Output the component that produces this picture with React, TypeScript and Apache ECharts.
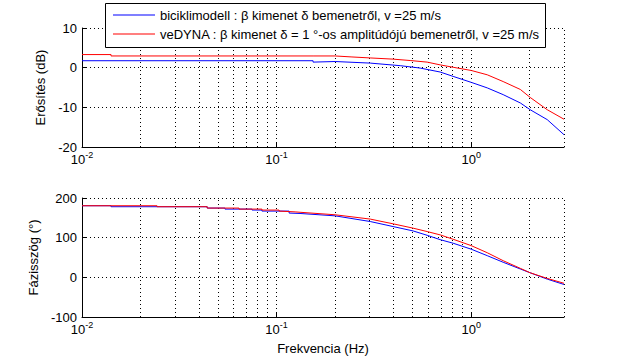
import React, { useEffect, useRef } from "react";
import * as echarts from "echarts";

const seriesNames = [
  "biciklimodell : β kimenet δ bemenetről, v =25 m/s",
  "veDYNA : β kimenet δ = 1 °-os amplitúdójú bemenetről, v =25 m/s",
];

// Magnitude (dB)
const magFreqBlue = [0.01, 0.154, 0.154, 0.2, 0.303, 0.432, 0.547, 0.693, 0.808, 1.0, 1.21, 1.46, 1.79, 2.01, 2.46, 3.0];
const magBlue = [1.75, 1.75, 1.4, 1.55, 1.15, 0.5, -0.1, -1.1, -2.2, -3.7, -5.1, -6.8, -8.9, -10.6, -13.1, -16.9];
const magFreqRed = [0.01, 0.0141, 0.0141, 0.154, 0.154, 0.2, 0.244, 0.303, 0.397, 0.486, 0.594, 0.693, 0.808, 1.0, 1.21, 1.46, 1.79, 2.01, 2.46, 3.0];
const magRed = [3.3, 3.3, 2.95, 2.95, 2.8, 2.95, 2.7, 2.45, 2.15, 1.8, 1.4, 0.7, 0.1, -0.7, -1.8, -3.5, -5.5, -7.5, -10.6, -13.0];

// Phase (deg)
const phFreqBlue = [0.01, 0.0141, 0.0141, 0.044, 0.044, 0.0543, 0.0543, 0.0748, 0.0748, 0.0841, 0.0841, 0.116, 0.116, 0.132, 0.2, 0.303, 0.397, 0.503, 0.594, 0.693, 0.808, 1.0, 1.21, 1.46, 1.79, 2.01, 2.46, 3.0];
const phBlue = [180.5, 180.5, 178, 178, 174.6, 174.6, 172, 172, 169.6, 169.6, 167, 167, 162, 161, 155, 140.7, 128, 117, 106, 95, 86, 71, 54.6, 38, 21, 11.5, -4.5, -18];
const phFreqRed = [0.01, 0.0243, 0.0243, 0.044, 0.044, 0.0641, 0.0641, 0.0841, 0.0841, 0.103, 0.103, 0.1245, 0.132, 0.2, 0.303, 0.397, 0.503, 0.594, 0.693, 0.808, 1.0, 1.21, 1.46, 1.79, 2.01, 2.46, 3.0];
const phRed = [180.5, 180.5, 178, 178, 174.6, 174.6, 172, 172, 169.6, 169.6, 167, 165, 164, 157.7, 146.8, 134.9, 124, 115.4, 107, 96, 80, 62, 42, 22.6, 11.5, -2.7, -15];

// Log grid lines (vertical)
const gridFreqs = [0.02, 0.03, 0.04, 0.05, 0.06, 0.07, 0.08, 0.09, 0.1, 0.2, 0.3, 0.4, 0.5, 0.6, 0.7, 0.8, 0.9, 1, 2, 3];

const FONT = "'Liberation Sans', Arial, sans-serif";
const BLUE = "#0000ff";
const RED = "#ff0000";

const zip = (xs: number[], ys: number[]) => xs.map((x, i) => [x, ys[i]]);

export default function App() {
  const ref = useRef<HTMLDivElement>(null);
  useEffect(() => {
    if (!ref.current) return;
    const chart = echarts.init(ref.current, undefined, { renderer: "svg" });
    const dotted = { color: "#000", type: [1, 3] as any, width: 1 };
    const xAxisBase = (gridIndex: number, withName: boolean) => ({
      type: "log",
      gridIndex,
      min: 0.01,
      max: 3,
      logBase: 10,
      name: withName ? "Frekvencia (Hz)" : "",
      nameLocation: "middle",
      nameGap: 25,
      nameTextStyle: { fontSize: 13, color: "#000", fontFamily: FONT },
      axisLine: { show: true, onZero: false, lineStyle: { color: "#000", width: 1 } },
      axisTick: { show: true, inside: true, length: 5, lineStyle: { color: "#000" } },
      splitLine: { show: false },
      axisLabel: {
        margin: 5,
        color: "#000",
        fontFamily: FONT,
        showMaxLabel: false,
        formatter: (v: number) => {
          const e = Math.round(Math.log10(v));
          if (Math.abs(v - Math.pow(10, e)) > 1e-9 * Math.pow(10, e)) return "";
          return "{b|10}{s|" + e + "}";
        },
        rich: {
          b: { fontSize: 13, fontFamily: FONT, color: "#000", lineHeight: 14 },
          s: { fontSize: 9, fontFamily: FONT, color: "#000", lineHeight: 10, padding: [0, 0, 8, 0] },
        },
      },
    });
    const yAxisBase = (gridIndex: number, name: string, min: number, max: number, interval: number, gap: number) => ({
      type: "value",
      gridIndex,
      min,
      max,
      interval,
      name,
      nameLocation: "middle",
      nameGap: gap,
      nameTextStyle: { fontSize: 13, color: "#000", fontFamily: FONT },
      axisLine: { show: true, onZero: false, lineStyle: { color: "#000", width: 1 } },
      axisTick: { show: true, inside: true, length: 5, lineStyle: { color: "#000" } },
      axisLabel: { margin: 5, fontSize: 13, color: "#000", fontFamily: FONT },
      splitLine: { show: true, lineStyle: dotted },
    });
    const markGrid = {
      silent: true,
      symbol: "none",
      z: 1,
      label: { show: false },
      emphasis: { disabled: true },
      lineStyle: dotted,
      data: gridFreqs.map((v) => ({ xAxis: v })),
    };
    const lineSeries = (name: string, color: string, data: number[][], idx: number, mark: boolean) => ({
      type: "line",
      name,
      xAxisIndex: idx,
      yAxisIndex: idx,
      data,
      symbol: "none",
      showSymbol: false,
      z: 3,
      lineStyle: { color, width: 1 },
      itemStyle: { color },
      emphasis: { disabled: true },
      ...(mark ? { markLine: markGrid } : {}),
    });
    chart.setOption({
      animation: false,
      backgroundColor: "#fff",
      textStyle: { fontFamily: FONT },
      grid: [
        { left: 82, top: 28, width: 482, height: 119 },
        { left: 82, top: 198, width: 482, height: 119 },
      ],
      xAxis: [xAxisBase(0, false), xAxisBase(1, true)],
      yAxis: [
        yAxisBase(0, "Erősítés (dB)", -20, 10, 10, 30),
        yAxisBase(1, "Fázisszög (°)", -100, 200, 100, 36),
      ],
      legend: {
        z: 110,
        orient: "vertical",
        left: 113,
        top: 8,
        padding: 0,
        icon: "rect",
        itemWidth: 42,
        itemHeight: 1,
        itemGap: 5,
        selectedMode: false,
        data: seriesNames,
        textStyle: { fontSize: 13, color: "#000", fontFamily: FONT, lineHeight: 14 },
      },
      graphic: [
        {
          type: "rect",
          z: 100,
          shape: { x: 105.5, y: 3.5, width: 440, height: 44 },
          style: { fill: "#fff", stroke: "#000", lineWidth: 1 },
        },
      ],
      series: [
        lineSeries(seriesNames[0], BLUE, zip(magFreqBlue, magBlue), 0, true),
        lineSeries(seriesNames[1], RED, zip(magFreqRed, magRed), 0, false),
        lineSeries(seriesNames[0], BLUE, zip(phFreqBlue, phBlue), 1, true),
        lineSeries(seriesNames[1], RED, zip(phFreqRed, phRed), 1, false),
      ],
    });
    return () => chart.dispose();
  }, []);
  return <div ref={ref} style={{ position: "fixed", left: 0, top: 0, width: 623, height: 360 }} />;
}
